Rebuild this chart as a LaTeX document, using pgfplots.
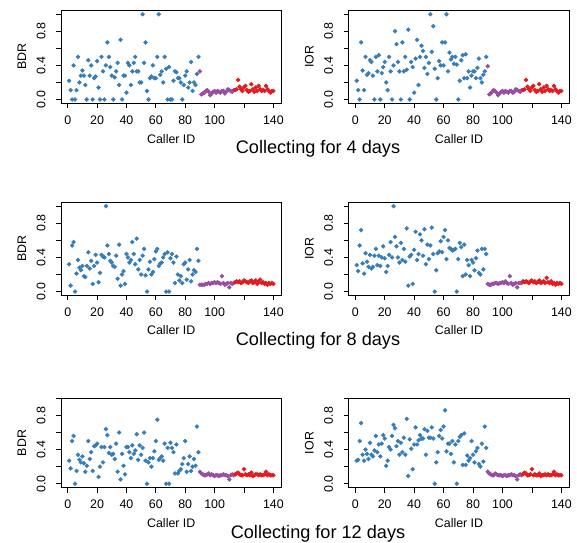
\documentclass[border=0pt]{standalone}
\usepackage{pgfplots}
\usepackage{pgfplotstable}
\pgfplotsset{compat=1.18}
\usepackage{fontspec}
\setmainfont{Liberation Sans}
\definecolor{sblue}{HTML}{377EB8}
\definecolor{spurple}{HTML}{984EA3}
\definecolor{sred}{HTML}{E41A1C}

\pgfplotstableread{
id b4 i4 b8 i8 b12 i12
1 0.22 0.22 0.32 0.31 0.27 0.27
2 0.11 0.11 0.07 0.24 0.18 0.28
3 0 0 0.54 0.54 0.50 0.50
4 0.40 0.67 0.58 0.72 0.56 0.71
5 0 0.34 0 0.33 0 0.34
6 0.11 0.11 0.21 0.21 0.15 0.27
7 0.50 0.50 0.37 0.45 0.34 0.40
8 0.20 0.29 0.28 0.35 0.28 0.35
9 0.28 0.31 0.25 0.29 0.25 0.29
10 0.34 0.46 0.30 0.43 0.32 0.48
11 0.28 0.44 0.18 0.27 0.24 0.34
12 0.17 0.28 0.17 0.29 0.14 0.32
13 0 0 0.30 0.42 0.21 0.39
14 0.46 0.50 0.46 0.50 0.50 0.56
15 0.28 0.33 0.27 0.31 0.29 0.37
16 0.40 0.52 0.36 0.42 0.37 0.46
17 0 0 0.09 0.30 0.15 0.32
18 0.25 0.31 0.30 0.40 0.44 0.47
19 0.27 0.38 0.43 0.53 0.45 0.57
20 0.45 0.44 0.34 0.39 0.47 0.53
21 0.14 0.20 0.11 0.23 0.08 0.21
22 0 0.11 0.22 0.30 0.20 0.27
23 0.50 0.50 0.43 0.43 0.43 0.43
24 0.33 0.33 0.41 0.58 0.25 0.40
25 0 0 0.40 0.40 0.43 0.56
26 0.40 0.40 1.00 1.00 0.64 0.69
27 0.67 0.80 0.54 0.64 0.57 0.65
28 0.50 0.65 0.44 0.53 0.36 0.44
29 0.38 0.44 0.36 0.40 0.43 0.50
30 0.28 0.33 0.34 0.34 0.34 0.34
31 0 0 0.30 0.57 0.35 0.48
32 0.26 0.67 0.29 0.37 0.29 0.37
33 0.33 0.33 0.42 0.50 0.47 0.54
34 0.43 0.50 0.15 0.35 0.14 0.34
35 0.17 0.35 0.55 0.74 0.60 0.76
36 0.70 0.82 0.07 0.07 0.05 0.09
37 0 0 0.20 0.41 0.35 0.52
38 0.28 0.44 0.24 0.43 0.21 0.41
39 0.28 0.38 0.09 0.09 0.11 0.17
40 0.08 0.08 0.44 0.49 0.43 0.46
41 0.43 0.48 0.40 0.70 0.43 0.66
42 0.40 0.70 0.34 0.37 0.37 0.46
43 0.17 0.17 0.37 0.44 0.30 0.51
44 0.33 0.50 0.58 0.67 0.45 0.57
45 0.43 0.63 0.44 0.60 0.35 0.53
46 0.50 0.57 0.32 0.42 0.39 0.53
47 0.33 0.37 0.62 0.73 0.58 0.64
48 0.33 0.50 0.26 0.32 0.28 0.34
49 0.20 0.30 0.37 0.55 0.45 0.62
50 0.20 0.43 0.20 0.38 0.34 0.54
51 1.00 1.00 0.42 0.54 0.42 0.54
52 0.43 0.56 0.50 0.75 0.60 0.66
53 0.67 0.86 0.19 0.44 0.27 0.53
54 0.10 0.36 0 0 0 0
55 0 0 0.26 0.25 0.25 0.25
56 0.25 0.25 0.35 0.45 0.30 0.37
57 0.27 0.45 0.20 0.47 0.20 0.56
58 0.40 0.40 0.23 0.59 0.30 0.63
59 0.25 0.67 0.38 0.46 0.38 0.53
60 0.25 0.40 0.47 0.64 0.50 0.67
61 0.50 0.67 0.50 0.72 0.75 0.86
62 1.00 1.00 0.30 0.38 0.28 0.38
63 0.29 0.33 0.33 0.60 0.30 0.47
64 0.33 0.55 0.34 0.51 0.32 0.47
65 0.20 0.47 0.40 0.50 0.27 0.35
66 0.50 0.50 0.44 0.48 0.47 0.50
67 0.36 0.42 0 0.49 0 0.25
68 0 0.50 0.46 0.50 0.42 0.46
69 0.38 0.41 0 0 0 0
70 0 0 0.39 0.38 0.48 0.50
71 0 0.22 0.44 0.57 0.42 0.55
72 0.22 0.46 0.34 0.52 0.37 0.57
73 0.33 0.52 0.10 0.18 0.12 0.22
74 0.32 0.25 0.41 0.55 0.46 0.59
75 0.25 0.53 0.20 0.20 0.12 0.22
76 0.25 0.25 0.13 0.37 0.15 0.33
77 0.20 0.33 0.18 0.31 0.17 0.27
78 0 0.14 0.10 0.18 0.23 0.30
79 0.17 0.28 0.32 0.37 0.30 0.50
80 0.28 0.33 0.34 0.34 0.50 0.34
81 0.33 0.33 0.14 0.25 0.14 0.25
82 0.14 0.25 0.26 0.39 0.23 0.38
83 0.20 0.37 0.37 0.48 0.32 0.42
84 0.44 0.48 0.12 0.22 0.15 0.23
85 0.10 0.25 0.20 0.20 0.20 0.20
86 0.20 0.20 0.25 0.50 0.29 0.47
87 0.17 0.29 0.23 0.26 0.21 0.26
88 0.30 0.33 0.50 0.50 0.67 0.67
89 0.50 0.50 0.36 0.44 0.37 0.42
}\blues

\pgfplotstableread{
id b4 i4 b8 i8 b12 i12
90 0.33 0.39 0.08 0.09 0.14 0.14
91 0.06 0.06 0.08 0.08 0.12 0.12
92 0.07 0.07 0.08 0.08 0.11 0.11
93 0.08 0.09 0.08 0.09 0.10 0.10
94 0.10 0.11 0.09 0.09 0.10 0.10
95 0.11 0.10 0.09 0.10 0.11 0.12
96 0.09 0.08 0.10 0.10 0.12 0.11
97 0.05 0.05 0.09 0.09 0.10 0.10
98 0.07 0.07 0.10 0.10 0.11 0.10
99 0.09 0.09 0.10 0.10 0.10 0.10
100 0.10 0.10 0.11 0.11 0.09 0.09
101 0.08 0.08 0.10 0.10 0.10 0.10
102 0.10 0.10 0.11 0.12 0.10 0.10
103 0.09 0.09 0.10 0.10 0.09 0.09
104 0.08 0.08 0.09 0.09 0.10 0.10
105 0.10 0.10 0.18 0.18 0.10 0.10
106 0.10 0.10 0.10 0.10 0.11 0.11
107 0.07 0.08 0.08 0.08 0.10 0.10
108 0.09 0.09 0.09 0.09 0.10 0.10
109 0.12 0.12 0.10 0.10 0.09 0.09
110 0.11 0.11 0.05 0.05 0.05 0.05
111 0.10 0.10 0.10 0.10 0.10 0.10
112 0.09 0.09 0.09 0.10 0.11 0.11
113 0.11 0.11 0.10 0.10 0.10 0.10
}\purples

\pgfplotstableread{
id b4 i4 b8 i8 b12 i12
114 0.11 0.11 0.11 0.12 0.11 0.11
115 0.12 0.12 0.12 0.11 0.12 0.13
116 0.23 0.23 0.11 0.12 0.13 0.12
117 0.15 0.15 0.12 0.11 0.11 0.10
118 0.12 0.12 0.10 0.10 0.10 0.10
119 0.10 0.10 0.11 0.12 0.10 0.11
120 0.14 0.14 0.13 0.13 0.17 0.17
121 0.16 0.16 0.12 0.11 0.11 0.10
122 0.11 0.11 0.11 0.12 0.10 0.11
123 0.09 0.09 0.10 0.10 0.11 0.10
124 0.10 0.10 0.12 0.11 0.10 0.10
125 0.18 0.18 0.13 0.13 0.13 0.12
126 0.12 0.12 0.10 0.10 0.09 0.09
127 0.09 0.09 0.11 0.11 0.10 0.10
128 0.14 0.14 0.13 0.12 0.11 0.10
129 0.10 0.10 0.09 0.10 0.11 0.11
130 0.16 0.16 0.11 0.16 0.10 0.10
131 0.12 0.12 0.14 0.11 0.11 0.11
132 0.10 0.10 0.10 0.10 0.10 0.10
133 0.11 0.11 0.11 0.12 0.10 0.10
134 0.10 0.10 0.09 0.09 0.11 0.11
135 0.16 0.16 0.10 0.10 0.14 0.14
136 0.12 0.12 0.08 0.08 0.10 0.10
137 0.10 0.10 0.10 0.10 0.11 0.11
138 0.08 0.08 0.09 0.09 0.10 0.10
139 0.10 0.10 0.10 0.10 0.10 0.10
140 0.10 0.10 0.09 0.09 0.10 0.10
}\reds

\pgfplotsset{
  panel/.style={
    scale only axis,
    xmin=-4.56, xmax=145.56,
    xtick={0,20,40,60,80,100,120,140},
    xticklabels={0,20,40,60,80,100,,140},
    ytick={0,0.2,0.4,0.6,0.8,1.0},
    yticklabels={0.0,,0.4,,0.8,},
    tick pos=left,
    tick align=outside,
    major tick length=3.75pt,
    axis line style={line width=0.6pt},
    every tick/.style={black, line width=0.6pt},
    /pgf/number format/assume math mode=true,
    tick label style={font=\fontsize{9.3}{11}\selectfont},
    label style={font=\fontsize{9.3}{11}\selectfont},
    xticklabel style={anchor=north},
    xticklabel shift=2pt,
    yticklabel style={rotate=90, anchor=south},
    yticklabel shift=4.3pt,
    xlabel={Caller ID},
    xlabel style={at={(axis description cs:0.5,0)}, anchor=center, yshift=-26.5pt},
    ylabel style={at={(axis description cs:-0.177,0.5)}, anchor=center},
    clip=false,
  },
  bl/.style={only marks, mark=*, mark size=1.45pt, color=sblue, mark options={draw=none, fill=sblue}},
  pu/.style={only marks, mark=*, mark size=1.45pt, color=spurple, mark options={draw=none, fill=spurple}},
  re/.style={only marks, mark=*, mark size=1.45pt, color=sred, mark options={draw=none, fill=sred}},
}

\begin{document}
\begin{tikzpicture}
\useasboundingbox (0,0) rectangle (432.75pt,406.5pt);

% Row 1
\begin{axis}[panel, at={(45.75pt,329.0pt)}, anchor=south west, width=165.4pt, height=70pt, ymin=-0.045, ymax=1.05, ylabel={BDR}]
\addplot[bl] table[x=id,y=b4] {\blues};
\addplot[pu] table[x=id,y=b4] {\purples};
\addplot[re] table[x=id,y=b4] {\reds};
\end{axis}
\begin{axis}[panel, at={(261.4pt,329.0pt)}, anchor=south west, width=165.75pt, height=70pt, ymin=-0.045, ymax=1.05, ylabel={IOR}]
\addplot[bl] table[x=id,y=i4] {\blues};
\addplot[pu] table[x=id,y=i4] {\purples};
\addplot[re] table[x=id,y=i4] {\reds};
\end{axis}
\node[anchor=base, font=\fontsize{13.6}{16}\selectfont] at (238.5pt,291.2pt) {Collecting for 4 days};

% Row 2
\begin{axis}[panel, at={(45.75pt,185.25pt)}, anchor=south west, width=165.4pt, height=69.5pt, ymin=-0.04, ymax=1.045, ylabel={BDR}]
\addplot[bl] table[x=id,y=b8] {\blues};
\addplot[pu] table[x=id,y=b8] {\purples};
\addplot[re] table[x=id,y=b8] {\reds};
\end{axis}
\begin{axis}[panel, at={(261.4pt,185.25pt)}, anchor=south west, width=165.75pt, height=69.5pt, ymin=-0.04, ymax=1.045, ylabel={IOR}]
\addplot[bl] table[x=id,y=i8] {\blues};
\addplot[pu] table[x=id,y=i8] {\purples};
\addplot[re] table[x=id,y=i8] {\reds};
\end{axis}
\node[anchor=base, font=\fontsize{13.6}{16}\selectfont] at (238.5pt,147.4pt) {Collecting for 8 days};

% Row 3
\begin{axis}[panel, at={(45.75pt,40.7pt)}, anchor=south west, width=165.4pt, height=67pt, ymin=-0.047, ymax=1.0, ylabel={BDR}]
\addplot[bl] table[x=id,y=b12] {\blues};
\addplot[pu] table[x=id,y=b12] {\purples};
\addplot[re] table[x=id,y=b12] {\reds};
\end{axis}
\begin{axis}[panel, at={(261.4pt,40.7pt)}, anchor=south west, width=165.75pt, height=67pt, ymin=-0.047, ymax=1.0, ylabel={IOR}]
\addplot[bl] table[x=id,y=i12] {\blues};
\addplot[pu] table[x=id,y=i12] {\purples};
\addplot[re] table[x=id,y=i12] {\reds};
\end{axis}
\node[anchor=base, font=\fontsize{13.6}{16}\selectfont] at (238.5pt,2.85pt) {Collecting for 12 days};
\end{tikzpicture}
\end{document}
